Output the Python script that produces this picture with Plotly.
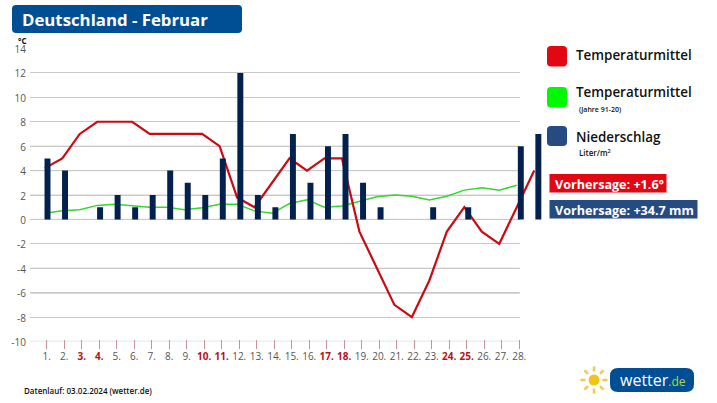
import math

import plotly.graph_objects as go

W, H = 717, 403

days = list(range(1, 30))
day_labels = list(range(1, 29))
weekend = [3, 4, 10, 11, 17, 18, 24, 25]
temp_mean = [4.2, 5, 7, 8, 8, 8, 7, 7, 7, 7, 6, 1.8, 1, 3, 5, 4, 5, 5, -1, -4, -7, -8, -5, -1, 1, -1, -2, 1, 4]
temp_normal = [0.5, 0.7, 0.8, 1.15, 1.25, 1.1, 1.0, 1.0, 0.8, 0.95, 1.25, 1.25, 0.7, 0.5, 1.3, 1.6, 1.0, 1.1, 1.45,
               1.85, 2.0, 1.9, 1.6, 1.9, 2.4, 2.6, 2.4, 2.8]
rain = [5, 4, 0, 1, 2, 1, 2, 4, 3, 2, 5, 12, 2, 1, 7, 3, 6, 7, 3, 1, 0, 0, 1, 0, 1, 0, 0, 6, 7]
y_ticks = [-10, -8, -6, -4, -2, 0, 2, 4, 6, 8, 10, 12, 14]
light_lines = [-10, -4, 0, 2, 4, 6]

BLUE = "#004f95"
RED = "#e30613"
GREEN = "#00f800"
NAVY = "#264a82"
FONT = "Open Sans"


def px_x(x):
    return x / W


def px_y(y):
    return 1 - y / H


def rounded(x0, y0, x1, y1, r):
    # rounded box, corners given in page pixels
    pts = [(x0 + r, y0), (x1 - r, y0), (x1, y0), (x1, y0 + r), (x1, y1 - r), (x1, y1), (x1 - r, y1), (x0 + r, y1),
           (x0, y1), (x0, y1 - r), (x0, y0 + r), (x0, y0), (x0 + r, y0)]
    p = [f"{px_x(a):.5f},{px_y(b):.5f}" for a, b in pts]
    return (f"M{p[0]} L{p[1]} Q{p[2]} {p[3]} L{p[4]} Q{p[5]} {p[6]} L{p[7]} Q{p[8]} {p[9]} L{p[10]} Q{p[11]} {p[12]} Z")


def box(x0, y0, x1, y1, r, color):
    fig.add_shape(type="path", path=rounded(x0, y0, x1, y1, r), xref="paper", yref="paper",
                  fillcolor=color, line_width=0, layer="above")


def label(x, y, text, size, color="#111111", weight=400):
    fig.add_annotation(x=px_x(x), y=px_y(y), xref="paper", yref="paper", text=text, showarrow=False,
                       xanchor="left", yanchor="middle", borderpad=0,
                       font=dict(family=FONT, size=size, color=color, weight=weight))


fig = go.Figure()

fig.add_trace(go.Scatter(x=days, y=temp_normal, mode="lines", xaxis="x2", yaxis="y2",
                         line=dict(color="#35d62f", width=1.5), hoverinfo="skip"))
fig.add_trace(go.Scatter(x=days, y=temp_mean, mode="lines", xaxis="x2", yaxis="y2",
                         line=dict(color="#cc0a12", width=2.2), hoverinfo="skip"))
fig.add_trace(go.Bar(x=days, y=rain, width=0.34, xaxis="x3", yaxis="y3", marker=dict(color="#03214f", line_width=0),
                     hoverinfo="skip"))

# the day axis stops at day 28, the marks run on to day 29 on their own wider axes
left, right_ticks, right_marks = 30, 519.5, 545
top, bottom = 48.5, 341.5
domain_ticks = [px_x(left), px_x(right_ticks)]
domain_marks = [px_x(left), px_x(right_marks)]
domain_y = [px_y(bottom), px_y(top)]


def day_range(first, step, x_end):
    return [1 + (left - first) / step, 1 + (x_end - first) / step]


tick_text = [f'<span style="color:#b5121b"><b>{d}.</b></span>' if d in weekend else f"{d}." for d in day_labels]

fig.update_layout(
    width=W,
    height=H,
    margin=dict(l=0, r=0, t=0, b=0, pad=0, autoexpand=False),
    paper_bgcolor="white",
    plot_bgcolor="rgba(0,0,0,0)",
    showlegend=False,
    font=dict(family=FONT, color="#555555"),
    xaxis=dict(domain=domain_ticks, range=day_range(46.7, 17.5, right_ticks), tickmode="array",
               tickvals=day_labels, ticktext=tick_text, ticks="outside", ticklen=9, tickwidth=1,
               tickcolor="#c9929b", showgrid=False, zeroline=False, showline=False, anchor="free",
               position=px_y(339), tickfont=dict(size=10, color="#555555"), tickangle=0, ticklabelstandoff=-1),
    yaxis=dict(domain=domain_y, range=[-10, 14], tickmode="array", tickvals=y_ticks,
               ticktext=[str(v) for v in y_ticks], showgrid=True,
               gridcolor="#c8c8c8", gridwidth=1.3, zeroline=False, showline=False, ticks="",
               tickfont=dict(size=10, color="#555555"), anchor="x", ticklabelstandoff=3, ticklabelshift=1),
    xaxis2=dict(domain=domain_marks, range=day_range(44.8, 17.48, right_marks), visible=False, anchor="y2"),
    yaxis2=dict(domain=domain_y, range=[-10, 14], visible=False, anchor="x2"),
    xaxis3=dict(domain=domain_marks, range=day_range(47.5, 17.53, right_marks), visible=False, anchor="y3"),
    yaxis3=dict(domain=domain_y, range=[-10, 14], visible=False, anchor="x3"),
)

# the lines of the reference are not all printed alike: -6 is dark, some are pale
fig.add_shape(type="line", xref="x domain", yref="y", x0=0, x1=1, y0=-6, y1=-6, line=dict(color="#666666", width=1.3),
              layer="below")
for v in light_lines:
    fig.add_shape(type="line", xref="x domain", yref="y", x0=0, x1=1, y0=v, y1=v,
                  line=dict(color="#e0dede", width=1.3), layer="below")

# title
box(12, 5, 242, 33, 4, BLUE)
label(21, 19, "Deutschland - Februar", 16.8, "white", 700)
label(17, 40, "°C", 8, "#111111", 700)

# legend
box(547, 46, 567, 66.5, 4, RED)
box(547, 87, 567, 107.5, 4, GREEN)
box(547, 126, 567, 146, 4, NAVY)
label(574.5, 55, "Temperaturmittel", 13.4, "#111111", 600)
label(574.5, 92, "Temperaturmittel", 13.4, "#111111", 600)
label(577.5, 109, "(Jahre 91-20)", 7, "#111111", 600)
label(574.5, 137, "Niederschlag", 13.4, "#111111", 600)
label(578, 153, "Liter/m<sup>2</sup>", 8, "#111111", 600)

# forecast boxes
box(549.5, 174, 666.5, 192.5, 0, RED)
box(549.5, 200, 697.5, 218.5, 0, NAVY)
label(554, 184, "Vorhersage: +1.6°", 12.6, "white", 700)
label(554, 210, "Vorhersage: +34.7 mm", 12.6, "white", 700)

label(23, 390, "Datenlauf: 03.02.2024 (wetter.de)", 8, "#111111", 600)

# logo
sun_x, sun_y = 594, 380
fig.add_shape(type="circle", xref="paper", yref="paper", x0=px_x(sun_x - 5.5), x1=px_x(sun_x + 5.5),
              y0=px_y(sun_y + 5.5), y1=px_y(sun_y - 5.5), fillcolor="#f0c419", line_width=0, layer="above")
for i in range(8):
    a = i * math.pi / 4
    fig.add_shape(type="line", xref="paper", yref="paper", layer="above",
                  x0=px_x(sun_x + 8.5 * math.cos(a)), x1=px_x(sun_x + 13.5 * math.cos(a)),
                  y0=px_y(sun_y + 8.5 * math.sin(a)), y1=px_y(sun_y + 13.5 * math.sin(a)),
                  line=dict(color="#eecb4a", width=2.5))
box(610, 368, 694, 392, 8, BLUE)
label(619, 380, 'wetter<span style="color:#b7d433;font-size:12px">.de</span>', 16, "white", 400)

fig.write_html("out.html", config={"displayModeBar": False}, post_script="document.body.style.margin='0';")
